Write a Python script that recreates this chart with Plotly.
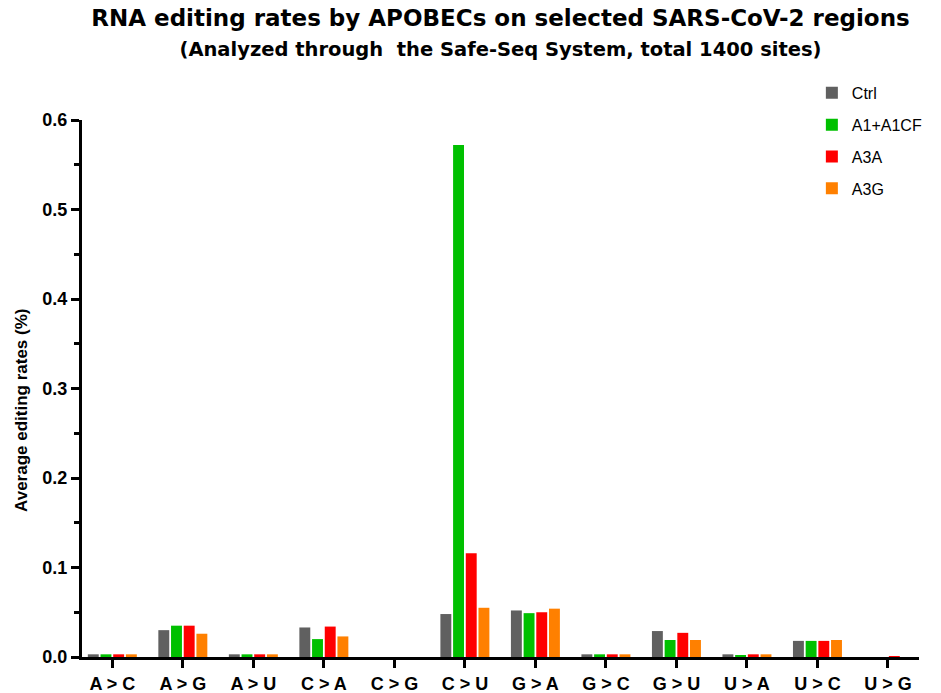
import plotly.graph_objects as go

categories = ["A > C", "A > G", "A > U", "C > A", "C > G", "C > U",
              "G > A", "G > C", "G > U", "U > A", "U > C", "U > G"]
ctrl   = [0.003, 0.030, 0.003, 0.033, 0.0, 0.048, 0.052, 0.003, 0.029, 0.003, 0.018, 0.0]
a1a1cf = [0.003, 0.035, 0.003, 0.020, 0.0, 0.572, 0.049, 0.003, 0.019, 0.002, 0.018, 0.0]
a3a    = [0.003, 0.035, 0.003, 0.034, 0.0, 0.116, 0.050, 0.003, 0.027, 0.003, 0.018, 0.0003]
a3g    = [0.003, 0.026, 0.003, 0.023, 0.0, 0.055, 0.054, 0.003, 0.019, 0.003, 0.019, 0.0]

series = [("Ctrl", ctrl, "#606060"), ("A1+A1CF", a1a1cf, "#00C000"),
          ("A3A", a3a, "#FF0000"), ("A3G", a3g, "#FF8000")]

FONT = "Liberation Sans, Arial, sans-serif"
TFONT = "DejaVu Sans, Liberation Sans, sans-serif"

fig = go.Figure()
for name, vals, col in series:
    fig.add_trace(go.Bar(x=list(range(len(categories))), y=vals, name=name,
                         legendgroup=name,
                         marker=dict(color=col, line=dict(width=0))))

fig.update_layout(
    width=941, height=693,
    paper_bgcolor="white", plot_bgcolor="white",
    margin=dict(l=82, r=22, t=120, b=36, autoexpand=False),
    barmode="group", bargap=0.28, bargroupgap=0.14,
    font=dict(family=FONT, color="black"),
    title=dict(
        text="<b>RNA editing rates by APOBECs on selected SARS-CoV-2 regions</b><br>"
             "<span style='font-size:19.5px'><b>(Analyzed through&nbsp; the Safe-Seq System, total 1400 sites)</b></span>",
        x=0.5, xref="paper", xanchor="center",
        y=0.962, yref="container", yanchor="top",
        font=dict(size=23, family=TFONT, color="black")),
    legend=dict(x=0.872, xanchor="left", y=1.082, yanchor="top",
                font=dict(size=16, family=FONT), traceorder="grouped",
                tracegroupgap=8, bgcolor="rgba(0,0,0,0)"),
    showlegend=True,
    annotations=[dict(text="<b>Average editing rates (%)</b>", textangle=-90,
                      xref="paper", yref="paper", x=-0.0717, y=0.46,
                      xanchor="center", yanchor="middle", showarrow=False,
                      font=dict(size=17, family=FONT, color="black"))],
)

fig.update_xaxes(
    range=[-0.43, 11.44], tickmode="array", automargin=False,
    tickvals=list(range(len(categories))), ticktext=categories,
    showline=True, linecolor="black", linewidth=3,
    ticks="outside", ticklen=8, tickwidth=3, tickcolor="black",
    tickfont=dict(size=18, family=FONT, color="black", weight="bold"),
    showgrid=False, zeroline=False, fixedrange=True,
)
fig.update_yaxes(
    range=[0, 0.6], tickmode="linear", tick0=0, dtick=0.1, tickformat=".1f",
    automargin=False,
    showline=True, linecolor="black", linewidth=3,
    ticks="outside", ticklen=8, tickwidth=3, tickcolor="black",
    tickfont=dict(size=18, family=FONT, color="black", weight="bold"),
    minor=dict(dtick=0.05, ticks="outside", ticklen=5, tickwidth=3, tickcolor="black"),
    showgrid=False, zeroline=False,
)

fig.write_html("out.html", config={"displayModeBar": False},
               post_script="document.body.style.margin='0';")
